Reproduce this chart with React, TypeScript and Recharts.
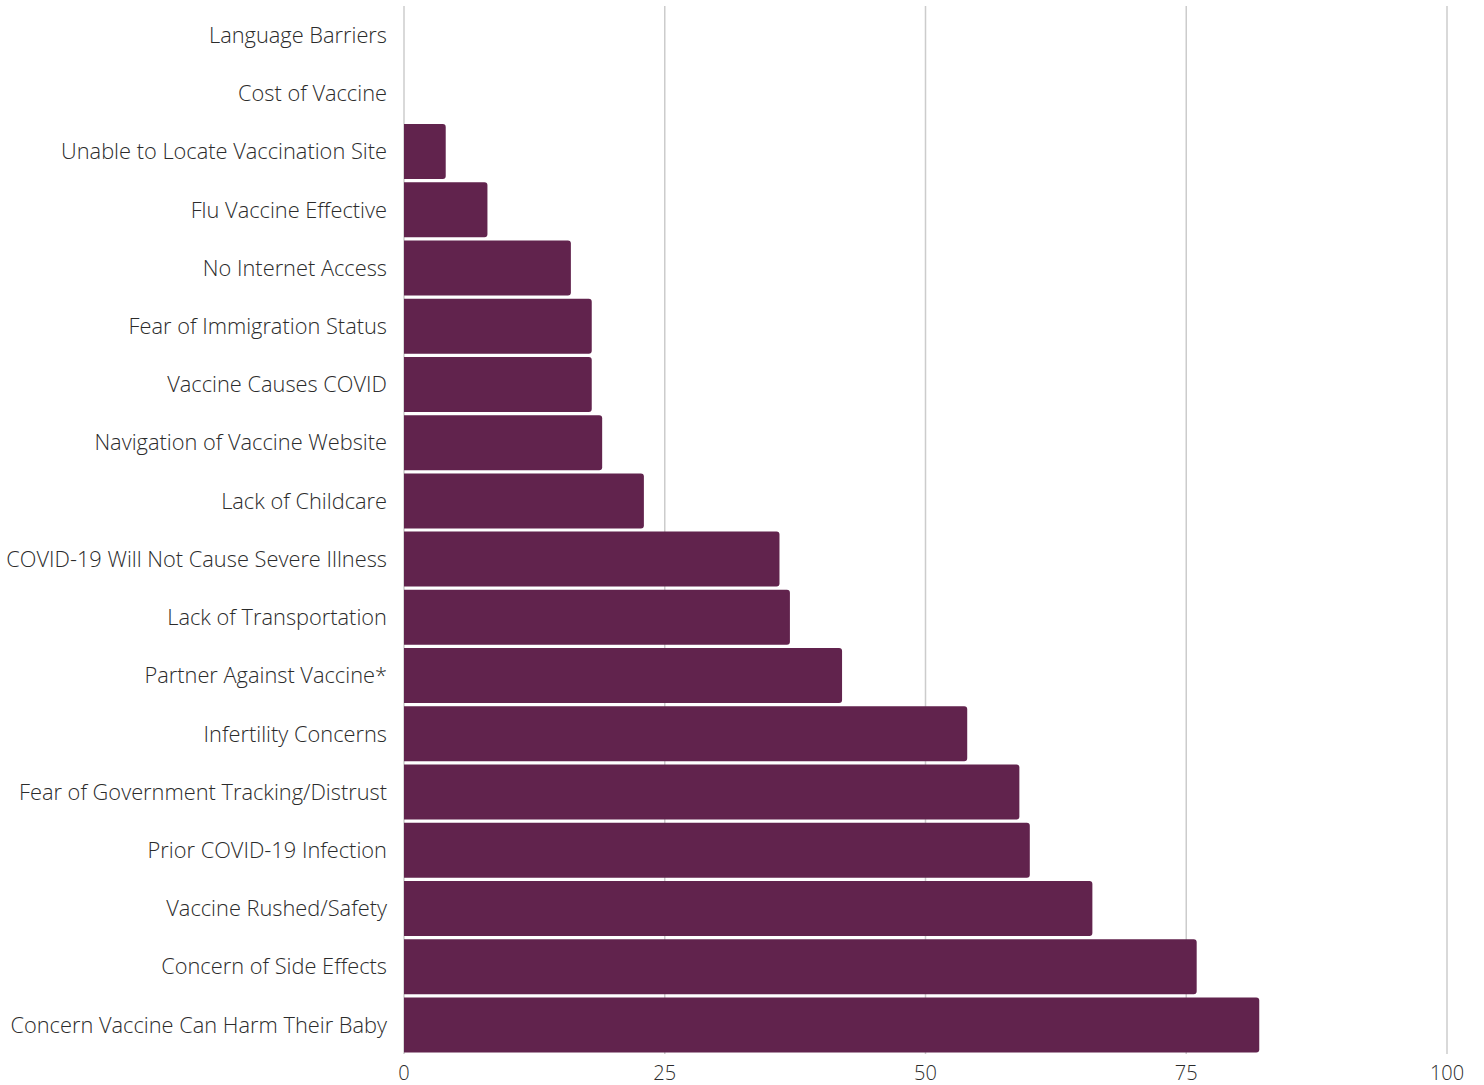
import React from "react";
import { BarChart, Bar, XAxis, YAxis, CartesianGrid } from "recharts";

const categories = [
  "Language Barriers",
  "Cost of Vaccine",
  "Unable to Locate Vaccination Site",
  "Flu Vaccine Effective",
  "No Internet Access",
  "Fear of Immigration Status",
  "Vaccine Causes COVID",
  "Navigation of Vaccine Website",
  "Lack of Childcare",
  "COVID-19 Will Not Cause Severe Illness",
  "Lack of Transportation",
  "Partner Against Vaccine*",
  "Infertility Concerns",
  "Fear of Government Tracking/Distrust",
  "Prior COVID-19 Infection",
  "Vaccine Rushed/Safety",
  "Concern of Side Effects",
  "Concern Vaccine Can Harm Their Baby",
];

const values = [0, 0, 4, 8, 16, 18, 18, 19, 23, 36, 37, 42, 54, 59, 60, 66, 76, 82];

const xTicks = [0, 25, 50, 75, 100];

const data = categories.map((name, i) => ({ name, value: values[i] }));

const yFont = { fontFamily: "'Open Sans', sans-serif", fontWeight: 300, fontSize: 21.8, fill: "#2b2b2b" };
const xFont = { fontFamily: "'Open Sans', sans-serif", fontWeight: 300, fontSize: 20, fill: "#2b2b2b" };

export default function App() {
  return (
    <div style={{ position: "absolute", left: 0, top: 0, width: 1484, height: 1085, background: "#fff" }}>
      <BarChart
        width={1484}
        height={1085}
        data={data}
        layout="vertical"
        margin={{ top: 6, right: 37, bottom: 0, left: 0 }}
        barCategoryGap={1.6}
      >
        <CartesianGrid horizontal={false} stroke="#cccccc" strokeWidth={1.5} />
        <XAxis
          type="number"
          domain={[0, 100]}
          ticks={xTicks}
          axisLine={false}
          tickLine={false}
          tickSize={0}
          tickMargin={12}
          height={31}
          tick={xFont}
          interval={0}
        />
        <YAxis
          type="category"
          dataKey="name"
          width={404}
          axisLine={false}
          tickLine={false}
          tickSize={0}
          tickMargin={17}
          tick={yFont}
          interval={0}
        />
        <Bar dataKey="value" fill="#61234d" radius={[0, 3, 3, 0]} isAnimationActive={false} />
      </BarChart>
    </div>
  );
}
